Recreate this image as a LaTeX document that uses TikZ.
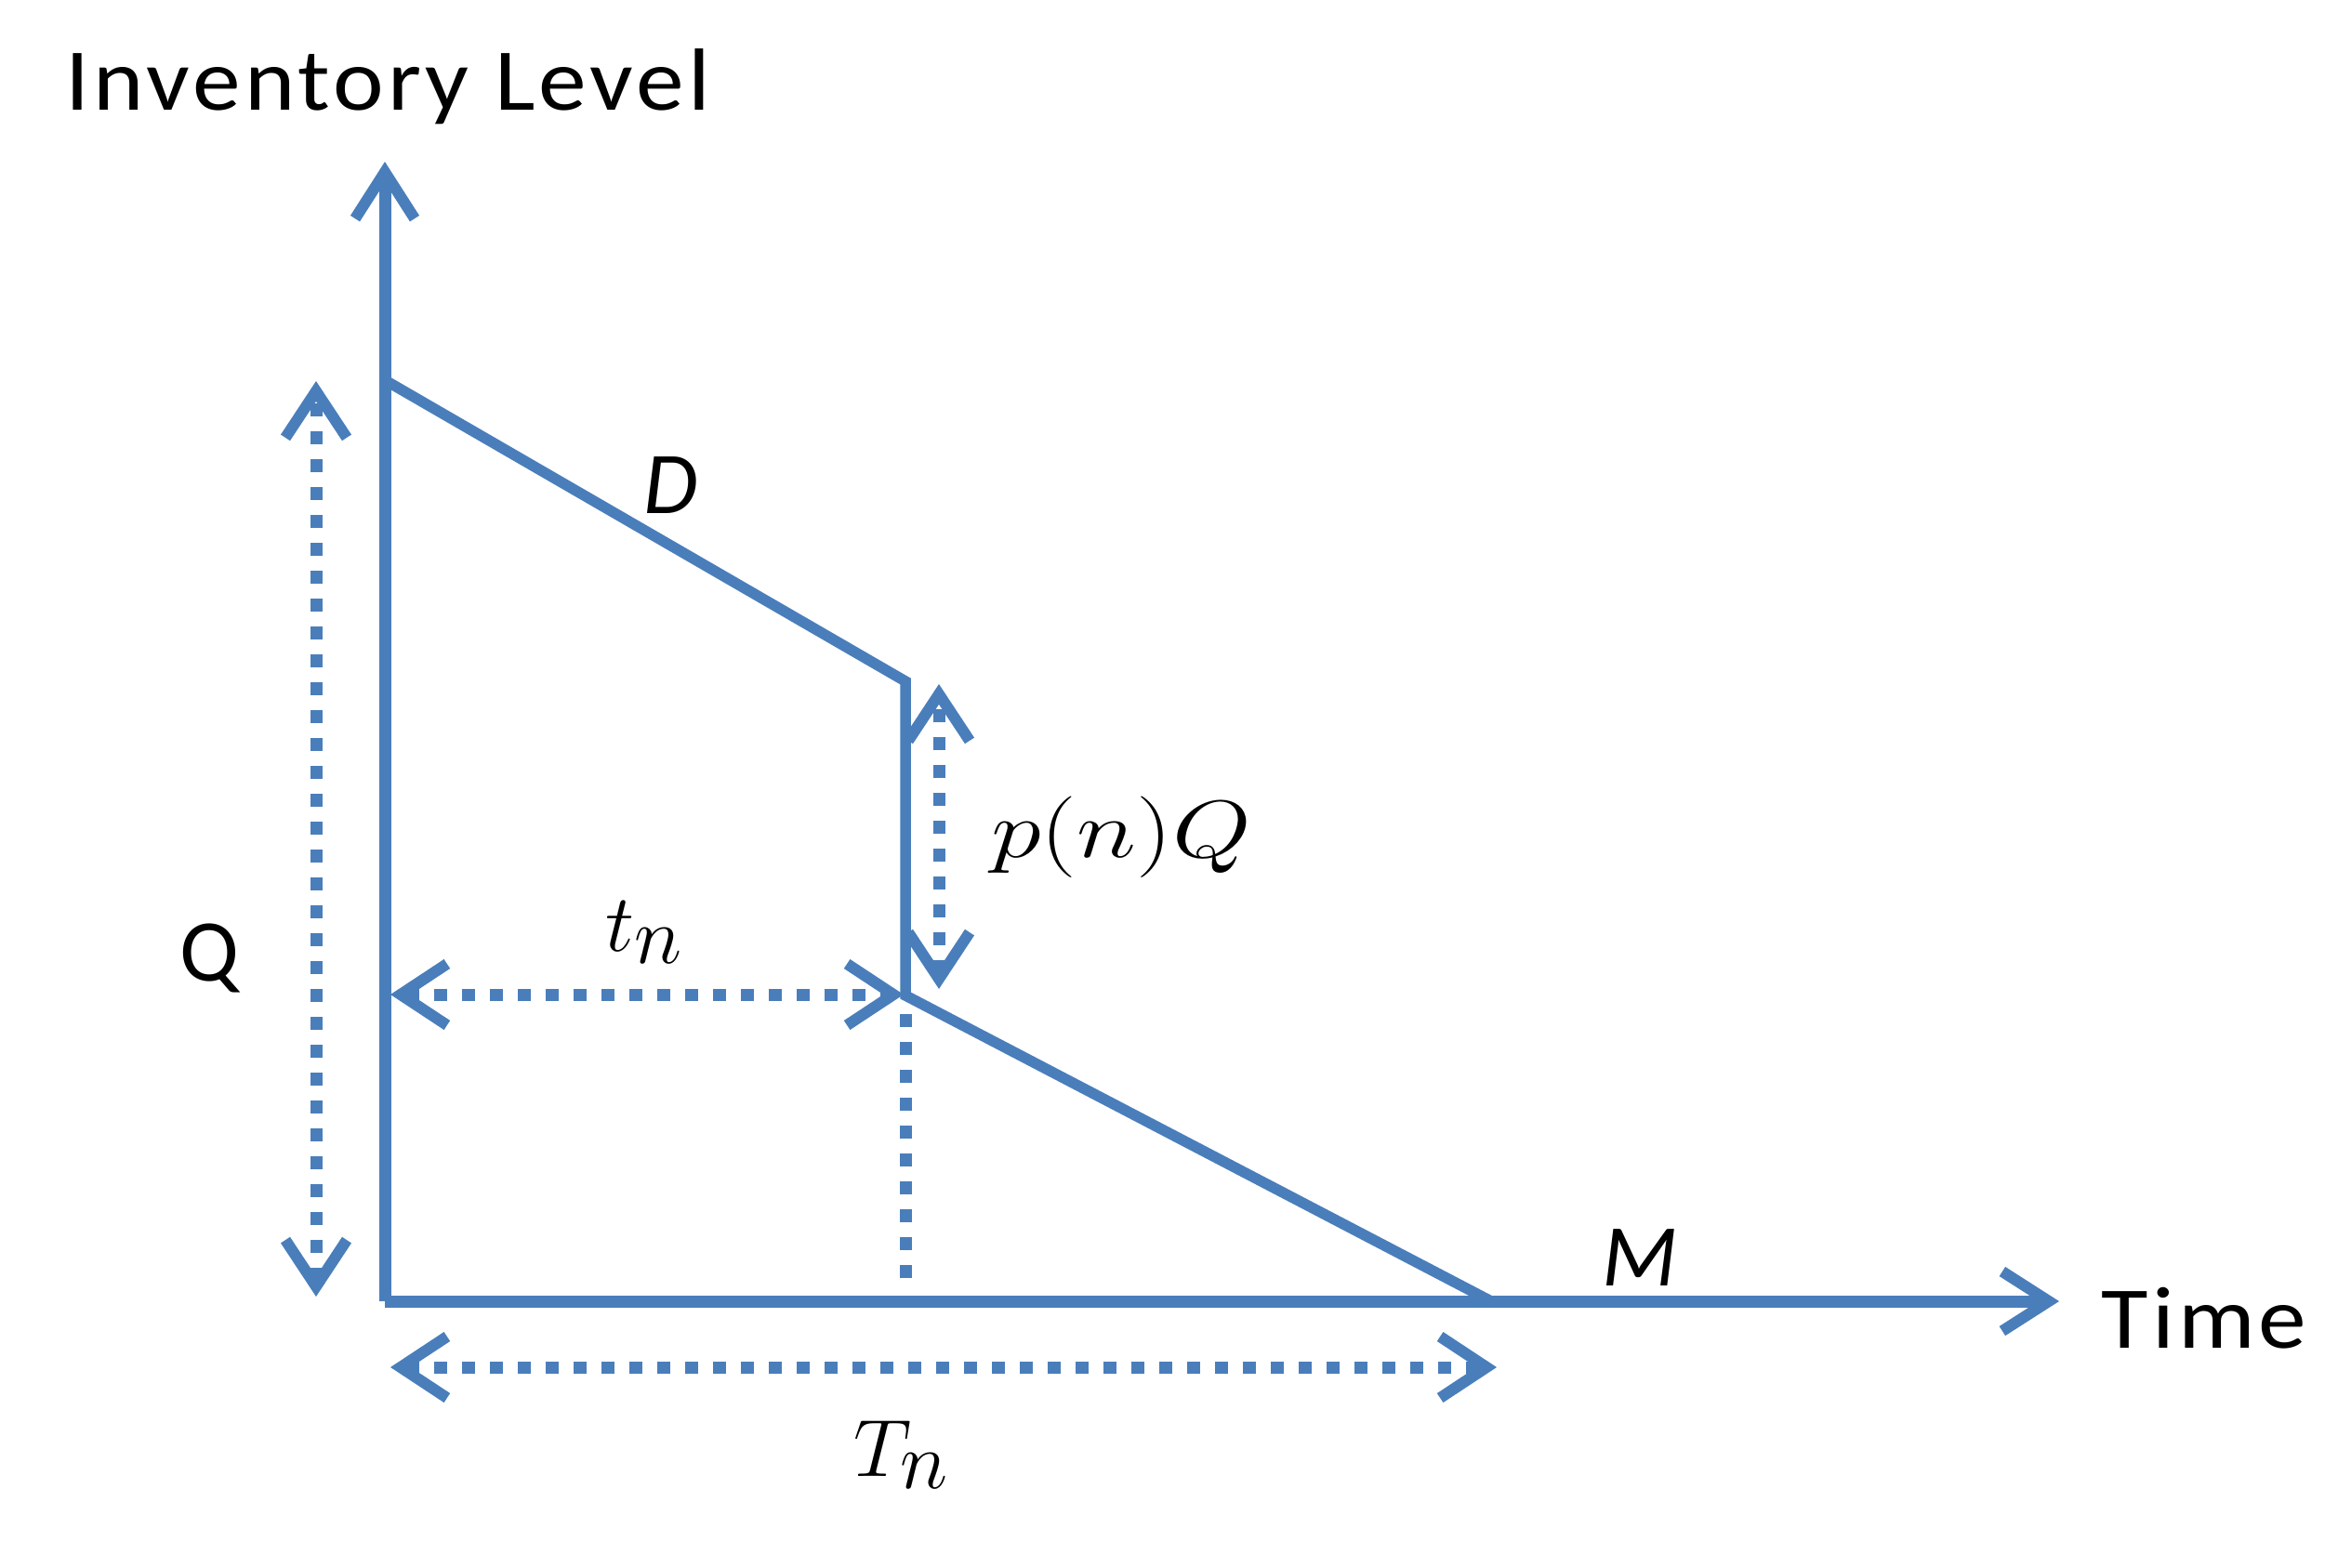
\documentclass[tikz,border=0pt]{standalone}
\usepackage{fontspec}
\setmainfont{Carlito}
\usetikzlibrary{arrows.meta}
\definecolor{ablue}{HTML}{4A7EBB}
\begin{document}
\begin{tikzpicture}[
  solidline/.style={draw=ablue, line width=0.13cm},
  dotline/.style={draw=ablue, line width=0.13cm, dash pattern=on 0.14cm off 0.16cm},
  tipv/.style={-{Straight Barb[length=0.5cm,width=0.64cm,line width=0.12cm]}},
  tipvv/.style={{Straight Barb[length=0.5cm,width=0.66cm,line width=0.12cm]}-{Straight Barb[length=0.5cm,width=0.66cm,line width=0.12cm]}},
  lbl/.style={inner sep=0pt, font=\fontsize{27}{32}\selectfont},
  widelbl/.style={inner sep=0pt, transform shape, xscale=1.09, font=\fontsize{27}{32}\selectfont\addfontfeatures{LetterSpace=4}},
  mlbl/.style={inner sep=0pt, font=\fontsize{33}{38}\selectfont},
]
\useasboundingbox (0,0) rectangle (25.15,-16.86);
% key points
\coordinate (O) at (4.14,-14.00);
\coordinate (Ytop) at (4.14,-1.74);
\coordinate (Xend) at (22.15,-14.00);
\coordinate (A) at (4.14,-4.09);
\coordinate (B) at (9.74,-7.33);
\coordinate (C) at (9.74,-10.71);
\coordinate (E) at (16.04,-14.00);
\coordinate (Qt) at (3.40,-4.10);
\coordinate (Qb) at (3.40,-13.95);
\coordinate (Pt) at (10.10,-7.36);
\coordinate (Pb) at (10.10,-10.64);
\coordinate (Tl) at (4.20,-10.70);
\coordinate (Tr) at (9.72,-10.70);
\coordinate (Vb) at (9.74,-13.90);
\coordinate (Nl) at (4.20,-14.71);
\coordinate (Nr) at (16.10,-14.71);
% axes
\draw[solidline, tipv] (O) -- (Ytop);
\draw[solidline, tipv] (O) -- (Xend);
\draw[solidline, line join=miter] (O) -- ++(0,0.06) (O) -- ++(0.06,0);
% inventory path
\draw[solidline, line width=0.115cm] (A) -- (B) -- (C) -- (E);
% dotted dimension arrows
\draw[dotline, tipvv] (Qb) -- (Qt);
\draw[dotline, tipvv] (Pb) -- (Pt);
\draw[dotline, tipvv] (Tl) -- (Tr);
\draw[dotline] (C) ++(0,-0.20) coordinate (Cd) (Cd) -- (Vb);
\draw[dotline, tipvv] (Nl) -- (Nr);
% labels
\node[widelbl, anchor=base west] (ylab) at (0.70,-1.19) {Inventory Level};
\node[widelbl, anchor=base west] (xlab) at (22.60,-14.50) {Time};
\node[lbl, anchor=base] (qlab) at (2.25,-10.55) {Q};
\node[lbl, anchor=base] (dlab) at (7.22,-5.52) {\itshape D};
\node[lbl, anchor=base] (mlab) at (17.64,-13.83) {\itshape M};
\node[mlbl, anchor=base, transform shape, xscale=1.25] (plab) at (12.06,-9.22) {$p(n)Q$};
\node[mlbl, anchor=base] (tlab) at (6.93,-10.23) {$t_n$};
\node[mlbl, anchor=base] (Tlab) at (9.70,-15.88) {$T_n$};
\end{tikzpicture}
\end{document}
